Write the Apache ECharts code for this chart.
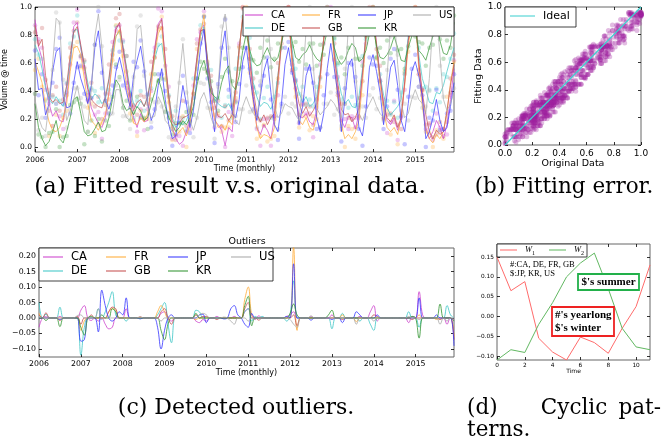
<!DOCTYPE html>
<html><head><meta charset="utf-8">
<script src="https://cdn.jsdelivr.net/npm/echarts@6/dist/echarts.min.js"></script>
<style>html,body{margin:0;padding:0;background:#fff}#c{width:670px;height:438px}</style>
</head><body><div id="c"></div>
<script>
// ---------- DATA ----------
const countries = ['CA','DE','FR','GB','JP','KR','US'];
const startYear = 2006;
const nMonths = 120;
const yearTicks = [2006,2007,2008,2009,2010,2011,2012,2013,2014,2015];
const yTicksA = [0,0.2,0.4,0.6,0.8,1.0];
const ticksB = [0,0.2,0.4,0.6,0.8,1.0];
const yTicksC = [-0.1,-0.05,0,0.05,0.1,0.15,0.2];
const xTicksD = [0,2,4,6,8,10];
const yTicksD = [-0.1,-0.05,0,0.05,0.1,0.15];

// (a) fitted monthly volumes, Jan 2006 .. Dec 2015
const fitCA = [.91,.72,.63,.44,.31,.22,.26,.19,.18,.36,.58,.86,
 .89,.71,.54,.41,.28,.22,.17,.14,.21,.39,.66,.86,
 .87,.69,.52,.33,.21,.14,.24,.18,.19,.46,.71,.88,
 .92,.61,.34,.14,.06,.02,.04,.11,.19,.41,.64,.84,
 .87,.59,.41,.19,.16,.12,.01,.14,.11,.39,.69,.94,
 .96,.61,.36,.14,.09,.16,.12,.06,.21,.44,.74,.94,
 .95,.62,.39,.22,.21,.24,.18,.16,.26,.49,.77,.95,
 .96,.66,.41,.19,.14,.22,.21,.13,.24,.51,.79,.96,
 .96,.74,.51,.29,.19,.16,.21,.12,.19,.46,.76,.94,
 .95,.59,.36,.14,.06,.11,.19,.14,.06,.16,.34,.56];
const fitDE = [.73,.67,.56,.42,.34,.31,.36,.32,.29,.43,.61,.83,
 .84,.71,.59,.46,.34,.38,.36,.31,.34,.48,.66,.79,
 .83,.72,.57,.41,.31,.28,.33,.29,.36,.49,.63,.72,
 .74,.56,.36,.21,.14,.18,.16,.19,.26,.39,.61,.79,
 .86,.63,.44,.34,.31,.29,.28,.31,.26,.44,.71,.91,
 .95,.69,.46,.36,.29,.32,.31,.27,.34,.51,.74,.94,
 .92,.71,.49,.39,.32,.36,.29,.31,.36,.54,.78,.94,
 .95,.72,.51,.38,.31,.34,.29,.28,.36,.56,.77,.96,
 .94,.69,.51,.37,.28,.23,.26,.29,.34,.56,.79,.94,
 .94,.66,.49,.41,.32,.31,.39,.38,.44,.54,.63,.71];
const fitFR = [.61,.54,.46,.29,.18,.12,.11,.14,.21,.31,.54,.71,
 .72,.66,.49,.31,.19,.16,.12,.18,.23,.39,.61,.79,
 .84,.61,.44,.28,.17,.16,.21,.18,.24,.42,.66,.81,
 .86,.54,.31,.12,.08,.11,.14,.08,.16,.41,.59,.81,
 .94,.56,.34,.21,.14,.16,.12,.19,.16,.41,.69,.94,
 .96,.54,.31,.14,.06,.09,.08,.06,.14,.46,.76,.94,
 .96,.59,.36,.19,.16,.21,.14,.12,.22,.49,.78,.95,
 .96,.61,.34,.16,.06,.09,.06,.11,.19,.46,.77,.95,
 .95,.71,.44,.26,.14,.11,.14,.09,.21,.44,.72,.89,
 .94,.56,.29,.12,.06,.03,.09,.06,.11,.24,.46,.61];
const fitGB = [.87,.72,.77,.51,.36,.32,.34,.31,.32,.44,.66,.82,
 .86,.73,.59,.42,.34,.31,.29,.28,.36,.49,.71,.84,
 .89,.71,.56,.37,.26,.32,.34,.29,.36,.51,.69,.86,
 .91,.62,.37,.18,.16,.17,.21,.22,.24,.43,.64,.83,
 .84,.63,.44,.31,.22,.21,.24,.19,.23,.44,.71,.91,
 .95,.64,.41,.24,.18,.23,.16,.21,.24,.51,.74,.94,
 .93,.66,.44,.31,.24,.29,.22,.26,.31,.52,.77,.95,
 .95,.67,.46,.27,.23,.24,.18,.21,.28,.53,.81,.95,
 .95,.73,.49,.31,.21,.18,.23,.14,.21,.47,.76,.91,
 .94,.61,.39,.23,.11,.06,.12,.09,.11,.26,.44,.59];
const fitJP = [.63,.41,.42,.23,.31,.54,.68,.71,.36,.28,.29,.46,
 .61,.49,.41,.31,.44,.71,.83,.59,.33,.27,.36,.54,
 .64,.53,.39,.29,.51,.62,.72,.56,.31,.19,.26,.44,
 .56,.34,.16,.06,.08,.26,.44,.31,.14,.26,.49,.71,
 .84,.56,.29,.11,.41,.69,.83,.51,.24,.21,.34,.61,
 .72,.51,.34,.19,.36,.54,.63,.39,.16,.11,.31,.59,
 .71,.54,.41,.16,.29,.51,.59,.44,.21,.11,.24,.56,
 .74,.56,.38,.11,.34,.58,.63,.41,.14,.08,.26,.57,
 .66,.54,.39,.16,.38,.57,.62,.44,.19,.11,.31,.54,
 .61,.51,.36,.06,.11,.21,.34,.19,.11,.14,.29,.46];
const fitKR = [.31,.14,.06,.01,.04,.11,.19,.06,.03,.11,.21,.34,
 .36,.24,.11,.08,.09,.13,.18,.11,.12,.21,.34,.48,
 .44,.31,.26,.28,.23,.29,.26,.19,.21,.31,.39,.49,
 .41,.29,.21,.16,.11,.14,.19,.16,.21,.29,.44,.56,
 .62,.51,.39,.36,.34,.46,.54,.58,.44,.41,.51,.69,
 .81,.69,.61,.58,.59,.66,.71,.64,.61,.64,.74,.86,
 .89,.76,.64,.62,.66,.68,.73,.67,.63,.61,.72,.83,
 .87,.71,.63,.59,.62,.69,.74,.71,.61,.63,.69,.81,
 .86,.72,.64,.63,.66,.71,.79,.71,.62,.61,.71,.79,
 .83,.69,.66,.62,.71,.79,.91,.76,.67,.66,.73,.89];
const fitUS = [.34,.21,.14,.11,.31,.59,.92,.89,.41,.19,.26,.34,
 .44,.31,.19,.16,.41,.79,.95,.71,.34,.21,.24,.41,
 .41,.28,.21,.19,.44,.84,.87,.61,.29,.21,.22,.36,
 .31,.19,.16,.11,.21,.49,.74,.46,.19,.12,.21,.34,
 .39,.31,.21,.14,.41,.81,.95,.69,.31,.18,.16,.29,
 .36,.29,.24,.21,.39,.79,.96,.61,.29,.21,.24,.31,
 .29,.28,.23,.19,.46,.84,.94,.59,.28,.23,.26,.29,
 .34,.31,.26,.21,.44,.86,.95,.56,.24,.19,.26,.31,
 .36,.29,.24,.21,.51,.87,.96,.59,.31,.21,.24,.34,
 .41,.34,.31,.24,.49,.89,.96,.66,.34,.26,.31,.39];

// (a) original monthly volumes (dots)
const origCA = [.87,.77,.71,.41,.31,.15,.31,.22,.13,.45,.59,.89,
 .98,.64,.57,.33,.35,.23,.25,.06,.24,.38,.75,.83,
 .87,.76,.42,.38,.29,.11,.27,.12,.27,.40,.71,.99,
 .97,.58,.43,.06,.08,.08,.01,.11,.13,.44,.77,.82,
 .97,.55,.41,.14,.22,.14,.00,.25,.08,.33,.74,1.0,
 .91,.63,.42,.13,.01,.20,.20,.01,.22,.37,.81,.96,
 1.0,.55,.42,.17,.31,.24,.24,.07,.28,.59,.74,1.0,
 1.0,.62,.50,.19,.20,.13,.22,.21,.21,.61,.74,.98,
 .92,.83,.48,.34,.10,.18,.33,.05,.21,.41,.84,.97,
 .99,.52,.41,.13,.16,.05,.24,.14,.13,.09,.37,.62];
const origDE = [.77,.66,.63,.33,.38,.36,.31,.33,.23,.46,.74,.79,
 .94,.65,.61,.39,.42,.40,.32,.42,.33,.41,.69,.86,
 .76,.75,.65,.38,.21,.33,.40,.26,.37,.42,.68,.73,
 .79,.48,.37,.15,.26,.17,.21,.12,.28,.49,.56,.87,
 .93,.59,.55,.34,.35,.21,.30,.36,.21,.56,.64,.93,
 .91,.78,.43,.39,.20,.35,.43,.21,.36,.46,.84,.97,
 .95,.62,.56,.38,.43,.30,.34,.29,.43,.49,.80,1.0,
 .93,.77,.59,.34,.31,.28,.36,.30,.30,.65,.77,.99,
 1.0,.64,.52,.31,.33,.23,.32,.21,.39,.53,.88,.92,
 .94,.71,.42,.43,.41,.26,.42,.32,.52,.50,.63,.81];
const origFR = [.55,.63,.43,.34,.08,.15,.23,.08,.21,.26,.64,.72,
 .75,.57,.56,.28,.31,.10,.16,.17,.30,.34,.62,.87,
 .82,.65,.54,.24,.19,.08,.26,.20,.20,.52,.64,.84,
 .93,.49,.32,.05,.13,.11,.22,.00,.19,.38,.70,.77,
 .94,.61,.27,.23,.24,.11,.14,.14,.22,.35,.71,1.0,
 1.0,.53,.38,.06,.08,.16,.04,.06,.08,.49,.87,.92,
 1.0,.55,.36,.14,.22,.22,.12,.22,.20,.43,.82,1.0,
 .91,.63,.42,.13,.00,.15,.13,.06,.22,.37,.84,.97,
 1.0,.63,.47,.20,.26,.09,.21,.02,.23,.54,.68,.97,
 1.0,.52,.40,.11,.10,.00,.12,.11,.06,.36,.39,.61];
const origGB = [.82,.75,.85,.48,.26,.37,.43,.26,.34,.37,.71,.83,
 .89,.65,.62,.37,.46,.29,.36,.20,.38,.59,.66,.92,
 .95,.69,.65,.37,.30,.23,.37,.36,.31,.61,.64,.86,
 .85,.70,.36,.22,.05,.21,.33,.15,.26,.38,.74,.84,
 .88,.54,.51,.28,.33,.15,.29,.19,.30,.39,.72,.99,
 .93,.70,.49,.21,.19,.15,.21,.22,.20,.60,.74,.99,
 1.0,.59,.47,.23,.30,.31,.29,.16,.34,.50,.88,.93,
 .95,.74,.37,.31,.31,.21,.20,.14,.35,.47,.81,1.0,
 1.0,.70,.58,.21,.23,.24,.18,.16,.13,.52,.87,.89,
 1.0,.55,.41,.16,.17,.07,.09,.18,.08,.18,.49,.66];
const origJP = [.69,.37,.52,.21,.35,.46,.70,.78,.31,.39,.24,.46,
 .57,.58,.38,.34,.35,.73,.97,.53,.33,.24,.44,.57,
 .68,.44,.46,.28,.61,.57,.76,.54,.38,.14,.27,.52,
 .52,.40,.24,.01,.09,.18,.51,.32,.10,.35,.49,.74,
 .93,.49,.32,.03,.45,.71,.91,.41,.29,.18,.45,.57,
 .71,.56,.27,.23,.44,.51,.64,.34,.22,.05,.31,.71,
 .75,.53,.48,.06,.33,.56,.56,.46,.13,.14,.37,.52,
 .84,.50,.39,.04,.42,.60,.59,.50,.13,.01,.29,.64,
 .59,.58,.47,.13,.29,.63,.70,.41,.22,.02,.36,.56,
 .66,.43,.37,.00,.21,.19,.41,.12,.13,.24,.26,.52];
const origKR = [.38,.09,.07,.00,.10,.11,.27,.00,.07,.08,.30,.32,
 .34,.31,.02,.11,.19,.08,.20,.04,.19,.15,.36,.59,
 .50,.28,.33,.19,.25,.36,.21,.21,.13,.34,.52,.47,
 .49,.25,.21,.09,.17,.17,.17,.25,.18,.23,.49,.61,
 .56,.53,.47,.33,.26,.50,.63,.54,.47,.32,.56,.71,
 .84,.63,.62,.53,.71,.64,.76,.57,.63,.74,.71,.92,
 .97,.72,.75,.61,.70,.59,.74,.74,.58,.73,.66,.83,
 .83,.78,.60,.64,.52,.71,.88,.63,.63,.58,.79,.82,
 .88,.64,.71,.60,.76,.67,.84,.69,.70,.56,.72,.87,
 .79,.75,.74,.58,.71,.73,.98,.77,.63,.76,.71,.94];
const origUS = [.38,.12,.21,.08,.41,.55,.96,.89,.48,.14,.27,.42,
 .42,.35,.29,.11,.41,.73,1.0,.72,.30,.30,.24,.44,
 .48,.22,.22,.13,.50,.86,.94,.51,.34,.18,.32,.32,
 .29,.26,.07,.13,.29,.46,.77,.39,.27,.07,.21,.46,
 .45,.28,.28,.06,.43,.86,.92,.71,.23,.22,.27,.27,
 .44,.25,.26,.14,.47,.82,.93,.70,.28,.13,.29,.36,
 .24,.31,.29,.18,.36,.90,1.0,.56,.30,.14,.31,.31,
 .39,.23,.27,.15,.56,.84,1.0,.47,.28,.29,.21,.37,
 .42,.27,.35,.19,.55,.79,.98,.66,.26,.31,.19,.36,
 .35,.43,.28,.29,.40,.93,1.0,.58,.36,.21,.39,.42];

// (c) detected outliers: [month index, value]; all other months are 0
const outCA = [[0,-.03],[2,.004],[6,.005],[12,.025],[13,.04],[15,-.008],[17,-.01],[19,-.02],[20,-.035],[21,-.03],[25,.03],[35,.015],[36,.02],[38,-.01],[45,-.01],[46,-.015],[47,-.005],[48,-.01],[51,.005],[56,.005],[59,.02],[60,.03],[61,.01],[62,-.005],[63,.007],[71,.005],[72,.01],[73,.02],[78,.004],[84,.01],[92,.005],[95,.02],[96,.04],[97,-.01],[106,-.015],[107,.005],[109,.085],[110,.01],[117,-.02],[119,-.005]];
const outDE = [[0,.05],[2,.012],[6,.035],[12,-.12],[13,-.03],[17,.03],[18,-.005],[19,.02],[20,.05],[21,.085],[22,.01],[25,-.01],[34,.01],[35,.03],[36,.05],[37,-.02],[38,-.08],[45,.025],[46,.02],[59,.02],[60,.03],[61,-.01],[62,.005],[64,.005],[71,-.01],[72,.01],[73,.12],[84,-.035],[87,.015],[92,-.01],[95,-.02],[96,-.04],[106,.02],[109,-.03],[117,.04],[118,.01]];
const outFR = [[0,.015],[12,-.04],[13,-.01],[20,.02],[21,.03],[22,.025],[34,.02],[35,.04],[36,.02],[45,-.005],[59,.06],[60,.1],[61,.01],[73,.23],[74,-.04],[87,.01],[91,-.012],[109,.01],[114,-.005],[119,-.06]];
const outGB = [[0,.01],[2,.017],[6,-.008],[11,.005],[12,-.02],[15,.01],[20,.02],[21,.035],[22,.03],[29,.004],[35,.02],[36,.03],[38,-.02],[45,.01],[47,.005],[48,.005],[51,-.005],[59,.03],[60,.05],[63,-.007],[73,.01],[74,-.025],[87,-.005],[96,.01],[97,.005],[107,-.005],[115,-.005],[119,-.07]];
const outJP = [[6,-.005],[12,-.075],[13,-.07],[17,-.045],[18,.09],[19,.04],[21,-.01],[23,.02],[24,.01],[25,.065],[29,-.003],[34,-.03],[35,-.1],[36,-.04],[38,.01],[46,.01],[47,.012],[48,-.015],[53,-.003],[55,.03],[56,.04],[57,.01],[59,-.02],[60,-.03],[61,.015],[71,.005],[73,.175],[78,-.007],[84,-.005],[87,-.015],[91,.02],[92,.01],[97,.01],[109,.065],[114,.01],[119,-.09]];
const outKR = [[2,-.008],[6,-.028],[12,-.03],[13,-.055],[15,.005],[18,.01],[21,.03],[22,.02],[35,-.04],[36,-.07],[37,-.02],[45,.015],[59,.04],[60,.07],[61,-.025],[72,.015],[73,.045],[74,.01],[83,.01],[84,.025],[107,.005],[109,-.065],[115,.045],[119,-.01]];
const outUS = [[11,.008],[12,.01],[17,.03],[29,.003],[35,-.01],[46,.01],[47,.015],[48,.01],[53,.003],[55,-.01],[56,-.02],[60,-.01],[72,-.005],[73,-.02],[74,-.03],[78,.007],[91,-.02],[96,-.01],[106,.005],[109,-.005],[115,-.02],[117,-.01]];

// (d) cyclic patterns over 12 months
const cycleX = [0,1,2,3,4,5,6,7,8,9,10,11];
const W1 = [.15,.065,.088,-.055,-.09,-.11,-.052,-.066,-.093,-.03,.025,.13];
const W2 = [-.11,-.084,-.091,-.02,.035,.10,.135,.16,.07,-.03,-.077,-.084];

// ---------- BUILD ----------
const fit = {CA:fitCA,DE:fitDE,FR:fitFR,GB:fitGB,JP:fitJP,KR:fitKR,US:fitUS};
const orig = {CA:origCA,DE:origDE,FR:origFR,GB:origGB,JP:origJP,KR:origKR,US:origUS};
const outl = {CA:outCA,DE:outDE,FR:outFR,GB:outGB,JP:outJP,KR:outKR,US:outUS};
const colors = {CA:'#cc3fcc',DE:'#3cc6c6',FR:'#ffaa33',GB:'#c44e4e',JP:'#3434ff',KR:'#2f942f',US:'#a8a8a8'};
const time = Array.from({length:nMonths},(_,i)=>startYear+i/12);
const tMax = time[nMonths-1];

const SANS = 'DejaVu Sans';
const SERIF = 'DejaVu Serif';
const fmt1 = v => (Math.abs(v)<1e-9?0:v).toFixed(1);
const fmt2 = v => { if (Math.abs(v)<1e-9) return '0.00'; return (v<0?'\u2212':'')+Math.abs(v).toFixed(2); };

function axis(g, min, max, ticks, fmt, fs, margin, name, gap, nfs) {
  return {
    gridIndex:g, type:'value', min, max,
    axisLine:{show:false, onZero:false}, splitLine:{show:false},
    axisTick:{show:true, inside:true, length:3, lineStyle:{color:'#000',width:0.8}, customValues:ticks},
    axisLabel:{customValues:ticks, formatter:fmt, fontSize:fs, margin, color:'#000', fontFamily:SANS},
    name, nameLocation:'middle', nameGap:gap,
    nameTextStyle:{fontSize:nfs, fontFamily:SANS, color:'#000'}
  };
}
// mirrored tick-only axes on the top / right edges of each frame
function mirror(g, pos, min, max, ticks) {
  return {gridIndex:g, type:'value', position:pos, min, max, axisLine:{show:false, onZero:false}, splitLine:{show:false},
    axisLabel:{show:false, customValues:ticks},
    axisTick:{show:true, inside:true, length:3, lineStyle:{color:'#000',width:0.8}, customValues:ticks}};
}

const gridBase = {show:true, borderColor:'#666', borderWidth:1, backgroundColor:'rgba(0,0,0,0)', containLabel:false, outerBoundsMode:'none'};
const grids = [
  Object.assign({left:35, top:7, width:419, height:145}, gridBase),
  Object.assign({left:505, top:7, width:136, height:138}, gridBase),
  Object.assign({left:39, top:248, width:415, height:109}, gridBase),
  Object.assign({left:497, top:244, width:153, height:116}, gridBase)
];

const xAxes = [
  axis(0, startYear, tMax, yearTicks, v=>String(Math.round(v)), 7.5, 4, 'Time (monthly)', 10, 8),
  axis(1, 0, 1, ticksB, fmt1, 9, 4, 'Original Data', 14, 9.5),
  axis(2, startYear, tMax, yearTicks, v=>String(Math.round(v)), 7.8, 3, 'Time (monthly)', 9, 8),
  axis(3, 0, 11, xTicksD, v=>String(v), 5.8, 2, 'Time', 8, 6),
  mirror(0,'top',startYear,tMax,yearTicks), mirror(1,'top',0,1,ticksB),
  mirror(2,'top',startYear,tMax,yearTicks), mirror(3,'top',0,11,xTicksD)
];
const yAxes = [
  axis(0, -0.035, 1.0, yTicksA, fmt1, 7.5, 3, 'Volume @ time', 16, 8),
  axis(1, 0, 1, ticksB, fmt1, 9, 3, 'Fitting Data', 18, 9.5),
  axis(2, -0.126, 0.226, yTicksC, fmt2, 7.8, 3, '', 10, 8),
  axis(3, -0.11, 0.183, yTicksD, fmt2, 5.8, 3, '', 10, 6),
  mirror(0,'right',-0.035,1.0,yTicksA), mirror(1,'right',0,1,ticksB),
  mirror(2,'right',-0.126,0.226,yTicksC), mirror(3,'right',-0.11,0.183,yTicksD)
];

const series = [];
countries.forEach(c => {
  series.push({type:'scatter', name:c+' original', xAxisIndex:0, yAxisIndex:0, silent:true, z:1,
    data: orig[c].map((v,i)=>[time[i],v]), symbolSize:4.5,
    itemStyle:{color:colors[c], opacity:0.28}});
});
countries.forEach(c => {
  series.push({type:'line', name:c, xAxisIndex:0, yAxisIndex:0, silent:true, z:2,
    data: fit[c].map((v,i)=>[time[i],v]), symbol:'none', showSymbol:false,
    itemStyle:{color:colors[c]}, lineStyle:{color:colors[c], width:1, opacity:0.7}});
});
// (b) fitting error: original vs fitted pairs
const errPairs = [];
countries.forEach(c => orig[c].forEach((v,i)=>errPairs.push([v, fit[c][i]])));
series.push({type:'scatter', name:'pairs', xAxisIndex:1, yAxisIndex:1, silent:true, z:1,
  data: errPairs, symbolSize:5, itemStyle:{color:'#a020a0', opacity:0.3}});
series.push({type:'line', name:'Ideal', xAxisIndex:1, yAxisIndex:1, silent:true, z:2,
  data:[[0,0],[1,1]], symbol:'none', itemStyle:{color:'#3fd0d0'}, lineStyle:{color:'#3fd0d0', width:1.2}});
// (c) outliers
countries.forEach(c => {
  const arr = new Array(nMonths).fill(0);
  outl[c].forEach(([i,v]) => { arr[i] = v; });
  series.push({type:'line', name:c, xAxisIndex:2, yAxisIndex:2, silent:true, z:2,
    data: arr.map((v,i)=>[time[i],v]), symbol:'none', smooth:0.4,
    itemStyle:{color:colors[c]}, lineStyle:{color:colors[c], width:1, opacity:0.8}});
});
// (d) cyclic patterns
series.push({type:'line', name:'W1', xAxisIndex:3, yAxisIndex:3, silent:true,
  data: cycleX.map((x,i)=>[x,W1[i]]), symbol:'none', itemStyle:{color:'#ff6b6b'}, lineStyle:{color:'#ff6b6b', width:1}});
series.push({type:'line', name:'W2', xAxisIndex:3, yAxisIndex:3, silent:true,
  data: cycleX.map((x,i)=>[x,W2[i]]), symbol:'none', itemStyle:{color:'#62b862'}, lineStyle:{color:'#62b862', width:1}});

// ---------- LEGENDS ----------
const legends = [];
function addLegend(name, x, y, iw, fs, fam, extra) {
  legends.push(Object.assign({data:[name], left:x, top:y - 7, icon:'rect', itemWidth:iw, itemHeight:1.6, itemGap:0, padding:0,
    selectedMode:false, zlevel:2, z:6, itemStyle:{opacity:0.65},
    textStyle:{fontSize:fs, fontFamily:fam||SANS, color:'#000', lineHeight:14, padding:[0,0,0,3]}}, extra||{}));
}
[['CA',245,15],['DE',245,28],['FR',302,15],['GB',302,28],['JP',358,15],['KR',358,28],['US',413,15]]
  .forEach(([n,x,y]) => addLegend(n,x,y,18,10));
[['CA',43,257],['DE',43,271],['FR',106,257],['GB',106,271],['JP',168,257],['KR',168,271],['US',231,257]]
  .forEach(([n,x,y]) => addLegend(n,x,y,20,11.5));
addLegend('Ideal',510,16,25,11);
const richW = {i:{fontStyle:'italic', fontFamily:'Liberation Serif', fontSize:8.5, lineHeight:12},
               s:{fontFamily:'Liberation Serif', fontSize:6, lineHeight:12, verticalAlign:'bottom', padding:[3,0,0,0]}};
addLegend('W1',500,251,17,8.5,'Liberation Serif',{formatter:n=>'{i|W}{s|'+n.slice(1)+'}'});
addLegend('W2',549,251,17,8.5,'Liberation Serif',{formatter:n=>'{i|W}{s|'+n.slice(1)+'}'});
legends.slice(-2).forEach(l => { l.textStyle.rich = richW; });

// ---------- GRAPHICS ----------
const box = (x,y,w,h) => ({type:'rect', zlevel:1, z:5, shape:{x,y,width:w,height:h}, style:{fill:'#fff', stroke:'#111', lineWidth:0.8}});
const txt = (x,y,t,font,align) => ({type:'text', zlevel:1, z:7, x, y, style:{text:t, font, fill:'#000', textAlign:align||'left', textVerticalAlign:'middle'}});
const cap = s => s + 'px "' + SERIF + '"';
const graphic = [
  box(243,7,211,29), box(39,248,234,33), box(505,7,71,20), box(497,244,90,13),
  txt(230,187,'(a) Fitted result v.s. original data.',cap(23),'center'),
  txt(564,187,'(b) Fitting error.',cap(21.5),'center'),
  txt(236,408,'(c) Detected outliers.',cap(22),'center'),
  txt(467,408,'(d)',cap(21.5),'left'),
  txt(574,408,'Cyclic',cap(21.5),'center'),
  txt(661,408,'pat-',cap(21.5),'right'),
  txt(467,430,'terns.',cap(21.5),'left'),
  txt(510,265,'#:CA, DE, FR, GB','8.5px "Liberation Serif"','left'),
  txt(510,274,'$:JP, KR, US','8.5px "Liberation Serif"','left'),
  {type:'rect', zlevel:1, z:5, shape:{x:578,y:274,width:61,height:16}, style:{fill:'#fff', stroke:'#22b04a', lineWidth:1.8}},
  txt(608.5,282,"$'s summer",'bold 11px "Liberation Serif"','center'),
  {type:'rect', zlevel:1, z:5, shape:{x:552,y:307,width:62,height:29}, style:{fill:'#fff', stroke:'#ee2222', lineWidth:1.8}},
  txt(555,315,"#'s yearlong",'bold 11px "Liberation Serif"','left'),
  txt(555,328,"$'s winter",'bold 11px "Liberation Serif"','left')
];

const chart = echarts.init(document.getElementById('c'), null, {renderer:'canvas'});
chart.setOption({
  animation:false, backgroundColor:'#fff',
  title:{text:'Outliers', left:247, top:237, textAlign:'center', padding:0,
    textStyle:{fontSize:9.5, fontWeight:'normal', fontFamily:SANS, color:'#000'}},
  grid:grids, xAxis:xAxes, yAxis:yAxes, series, legend:legends, graphic
});
</script></body></html>
